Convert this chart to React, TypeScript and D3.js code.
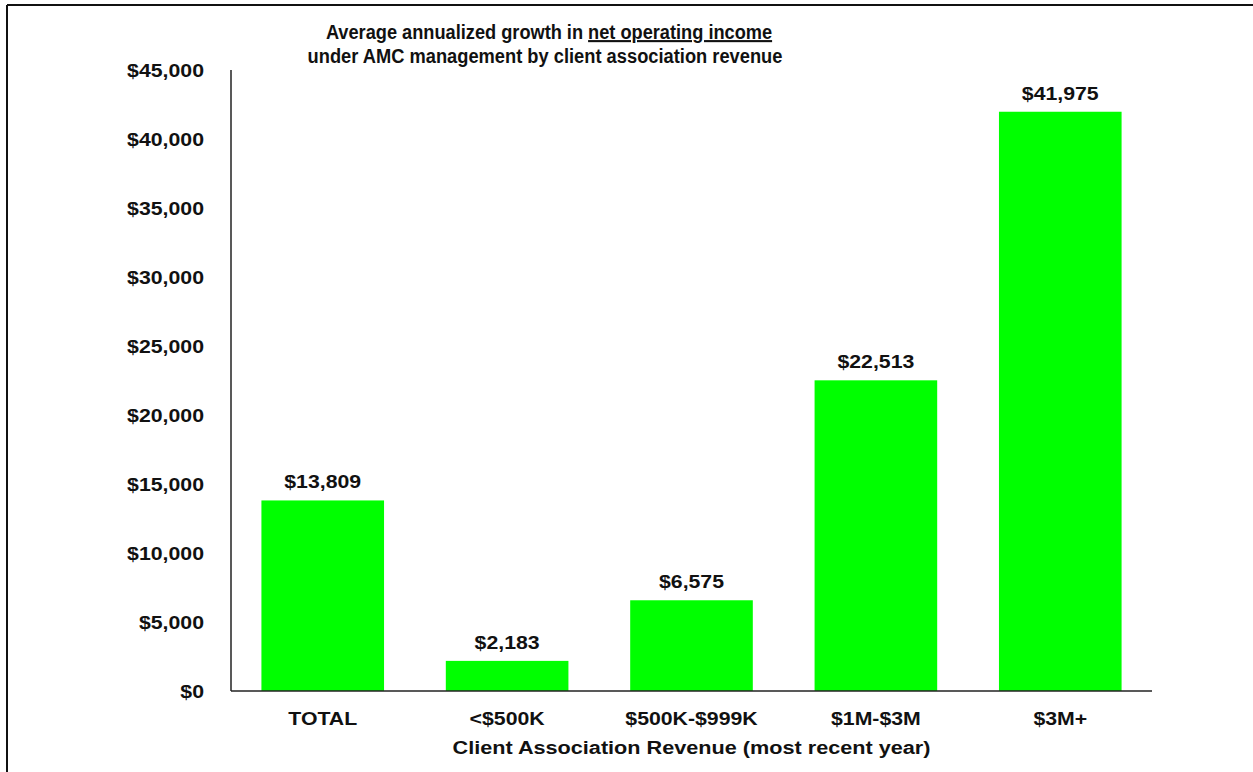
import React from "react";
import * as d3 from "d3";

const categories = ["TOTAL", "<$500K", "$500K-$999K", "$1M-$3M", "$3M+"];
const values = [13809, 2183, 6575, 22513, 41975];
const yTicks = [0, 5000, 10000, 15000, 20000, 25000, 30000, 35000, 40000, 45000];
const titleLine1a = "Average annualized growth in ";
const titleLine1b = "net operating income";
const titleLine2 = "under AMC management by client association revenue";
const xAxisTitle = "Client Association Revenue (most recent year)";

const W = 1253;
const H = 772;
const left = 231;
const right = 1152;
const top = 70;
const bottom = 691;
const FONT = "'Liberation Sans', Arial, sans-serif";
const SX = 1.12;

function T({ x, y, sx = SX, anchor = "middle", size = 19, children }: any) {
  return (
    <text
      transform={`translate(${x},${y}) scale(${sx},1)`}
      textAnchor={anchor}
      fontSize={size}
      fontWeight="bold"
      fill="#111"
    >
      {children}
    </text>
  );
}

export default function App() {
  const x = d3.scaleBand<string>().domain(categories).range([left, right]).paddingInner(0.335).paddingOuter(0.165);
  const y = d3.scaleLinear().domain([0, 45000]).range([bottom, top]);
  const fmt = (v: number) => "$" + d3.format(",")(v);

  return (
    <svg width={W} height={H} style={{ position: "absolute", left: 0, top: 0, background: "#fff" }} fontFamily={FONT}>
      <rect x={0} y={0} width={W} height={H} fill="#fff" />
      {/* frame */}
      <line x1={7} y1={5} x2={W} y2={5} stroke="#111" strokeWidth={2} />
      <line x1={7} y1={5} x2={7} y2={H} stroke="#111" strokeWidth={2} />

      {/* title */}
      <T x={549} y={39} sx={0.867} size={21}>
        <tspan>{titleLine1a}</tspan>
        <tspan textDecoration="underline">{titleLine1b}</tspan>
      </T>
      <T x={545} y={63} sx={0.871} size={21}>
        {titleLine2}
      </T>

      {/* bars */}
      {categories.map((c, i) => {
        const cx = (x(c) as number) + x.bandwidth() / 2;
        return (
          <g key={c}>
            <rect x={x(c)} y={y(values[i])} width={x.bandwidth()} height={bottom - y(values[i])} fill="#00ff00" />
            <T x={cx} y={y(values[i]) - 12}>{fmt(values[i])}</T>
            <T x={cx} y={725}>{c}</T>
          </g>
        );
      })}

      {/* y tick labels */}
      {yTicks.map((t) => (
        <T key={t} x={204} y={y(t) + 7} anchor="end">
          {fmt(t)}
        </T>
      ))}

      {/* axes */}
      <line x1={left} y1={top} x2={left} y2={bottom} stroke="#222" strokeWidth={1.5} />
      <line x1={left} y1={bottom} x2={right} y2={bottom} stroke="#222" strokeWidth={1.5} />

      <T x={(left + right) / 2} y={754} sx={1.14}>
        {xAxisTitle}
      </T>
    </svg>
  );
}
